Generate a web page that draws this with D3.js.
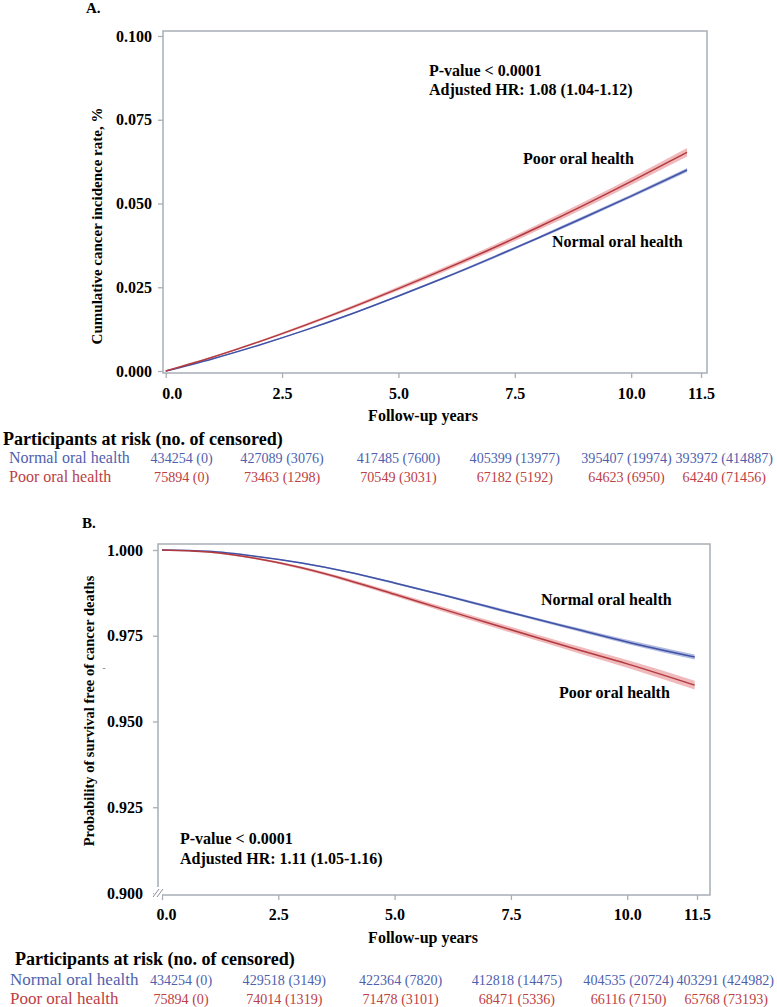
<!DOCTYPE html>
<html>
<head>
<meta charset="utf-8">
<style>
  body { margin: 0; background: #fff; }
  svg { display: block; }
  text { font-family: "Liberation Serif", "Times New Roman", "DejaVu Serif", serif; }
  .tick text { font-weight: bold; font-size: 16px; fill: #000; }
  .tick line { stroke: #a7aeb6; stroke-width: 1.3; }
  .bold { font-weight: bold; }
</style>
<title>Oral health and cancer</title>
</head>
<body>
<script src="https://cdn.jsdelivr.net/npm/d3@7"></script>
<script>

// ---- data ----
var xTicks = [0, 2.5, 5, 7.5, 10, 11.5];
var incTicks = [0, 0.025, 0.05, 0.075, 0.1];
var survTicks = [0.9, 0.925, 0.95, 0.975, 1.0];

// panel A : cumulative cancer incidence
var incTime     = [0, 1, 2, 3, 4, 5, 6, 7, 8, 9, 10, 11.2];
var incNormal   = [0, 0.0036, 0.0077, 0.0122, 0.0171, 0.0224, 0.0279, 0.0337, 0.0397, 0.0459, 0.0522, 0.0600];
var incNormalCI = [0, 0.0001, 0.0001, 0.0002, 0.0002, 0.0003, 0.0003, 0.0004, 0.0004, 0.0005, 0.0005, 0.0006];
var incPoor     = [0, 0.0041, 0.0087, 0.0137, 0.0190, 0.0246, 0.0304, 0.0365, 0.0429, 0.0496, 0.0566, 0.0653];
var incPoorCI   = [0, 0.0002, 0.0003, 0.0004, 0.0005, 0.0006, 0.0007, 0.0008, 0.0009, 0.0010, 0.0011, 0.0013];

// panel B : survival free of cancer deaths
var survTime     = [0, 1, 2, 3, 4, 5, 6, 7, 8, 9, 10, 11.45];
var survNormal   = [1.0, 0.9996, 0.9982, 0.9962, 0.9936, 0.9904, 0.9870, 0.9835, 0.9800, 0.9766, 0.9732, 0.9688];
var survNormalCI = [0, 0.0001, 0.0001, 0.0002, 0.0002, 0.0003, 0.0003, 0.0004, 0.0004, 0.0005, 0.0006, 0.0007];
var survPoor     = [1.0, 0.9994, 0.9976, 0.9948, 0.9912, 0.9871, 0.9829, 0.9788, 0.9747, 0.9707, 0.9668, 0.9606];
var survPoorCI   = [0, 0.0002, 0.0003, 0.0004, 0.0005, 0.0006, 0.0007, 0.0008, 0.0009, 0.0010, 0.0011, 0.0013];

var groups = ["Normal oral health", "Poor oral health"];
var riskAt = [0, 2.5, 5, 7.5, 9.9, 12];
var riskA_normal = ["434254 (0)", "427089 (3076)", "417485 (7600)", "405399 (13977)", "395407 (19974)", "393972 (414887)"];
var riskA_poor   = ["75894 (0)", "73463 (1298)", "70549 (3031)", "67182 (5192)", "64623 (6950)", "64240 (71456)"];
var riskB_normal = ["434254 (0)", "429518 (3149)", "422364 (7820)", "412818 (14475)", "404535 (20724)", "403291 (424982)"];
var riskB_poor   = ["75894 (0)", "74014 (1319)", "71478 (3101)", "68471 (5336)", "66116 (7150)", "65768 (73193)"];

var blue = "#3f52a6", blueBand = "#aab3dc", blueText = "#4f5fae";
var red = "#b23a3f", redBand = "#eeb1b4", redText = "#bd4043";
var frameCol = "#a7aeb6";

var svg = d3.select("body").append("svg").attr("width", 777).attr("height", 1007);

function panel(o) {
  var g = svg.append("g");
  var x = d3.scaleLinear().domain([0, 11.5]).range([o.x0, o.x1]);
  var y = d3.scaleLinear().domain(o.yDomain).range(o.yRange);
  var f = o.frame;

  g.append("rect")
    .attr("x", f[0]).attr("y", f[1])
    .attr("width", f[2] - f[0]).attr("height", f[3] - f[1])
    .attr("fill", "none").attr("stroke", frameCol).attr("stroke-width", 1.5);

  var ya = g.append("g").attr("transform", "translate(" + f[0] + ",0)")
    .call(d3.axisLeft(y).tickValues(o.yTicks).tickFormat(d3.format(".3f"))
      .tickSize(5).tickPadding(o.yPad));
  ya.select(".domain").remove();

  var xa = g.append("g").attr("transform", "translate(0," + f[3] + ")")
    .call(d3.axisBottom(x).tickValues(xTicks).tickFormat(d3.format(".1f"))
      .tickSize(5).tickPadding(o.xPad));
  xa.select(".domain").remove();
  xa.select(".tick text").attr("dx", o.firstDx);

  // bands then lines
  o.series.forEach(function(s) {
    var pts = s.t.map(function(t, i) { return {t: t, v: s.v[i], ci: s.ci[i]}; });
    g.append("path").datum(pts)
      .attr("fill", s.band).attr("opacity", 0.9)
      .attr("d", d3.area().curve(d3.curveMonotoneX)
        .x(function(d) { return x(d.t); })
        .y0(function(d) { return y(d.v - d.ci); })
        .y1(function(d) { return y(d.v + d.ci); }));
  });
  o.series.forEach(function(s) {
    var pts = s.t.map(function(t, i) { return {t: t, v: s.v[i]}; });
    g.append("path").datum(pts)
      .attr("fill", "none").attr("stroke", s.color).attr("stroke-width", 1.5)
      .attr("d", d3.line().curve(d3.curveMonotoneX)
        .x(function(d) { return x(d.t); })
        .y(function(d) { return y(d.v); }));
  });

  // titles
  g.append("text").attr("class", "bold").attr("x", o.letter[0]).attr("y", o.letter[1])
    .style("font-size", "15px").text(o.letterText);
  g.append("text").attr("class", "bold")
    .attr("transform", "translate(" + o.ylab[0] + "," + o.ylab[1] + ") rotate(-90)")
    .attr("text-anchor", "middle").attr("dy", "0.35em")
    .style("font-size", o.ylabSize).text(o.ylabText);
  g.append("text").attr("class", "bold").attr("x", 423).attr("y", f[3] + 48)
    .attr("text-anchor", "middle").style("font-size", "16px").text("Follow-up years");

  // annotations
  o.notes.forEach(function(n) {
    g.append("text").attr("class", "bold").attr("x", n[0]).attr("y", n[1])
      .attr("dy", "0.35em").style("font-size", "16px").text(n[2]);
  });

  // risk table
  var t = o.table;
  g.append("text").attr("class", "bold").attr("x", t.headX).attr("y", t.headY)
    .style("font-size", "18px").text("Participants at risk (no. of censored)");
  [t.normal, t.poor].forEach(function(row, r) {
    var yy = t.rowY[r];
    var col = r == 0 ? blueText : redText;
    g.append("text").attr("x", t.labX).attr("y", yy).attr("fill", col)
      .style("font-size", t.labSize).text(groups[r]);
    g.selectAll(null).data(row).enter().append("text")
      .attr("y", yy).attr("fill", col).attr("text-anchor", "middle")
      .style("font-size", t.numSize)
      .text(function(d) { return d; })
      .each(function(d, i) {
        var w = this.getComputedTextLength();
        var cx = x(riskAt[i]) + t.shift + (i == 0 ? 16 - t.shift / 2 : 0);
        cx = Math.min(cx, 774 - w / 2);
        d3.select(this).attr("x", cx);
      });
  });
  return {x: x, y: y, g: g};
}

panel({
  x0: 165.7, x1: 701, yDomain: [0, 0.1], yRange: [371, 36],
  frame: [163, 31, 707, 373], yTicks: incTicks, yPad: 6, xPad: 10, firstDx: 6,
  series: [
    {t: incTime, v: incNormal, ci: incNormalCI, color: blue, band: blueBand},
    {t: incTime, v: incPoor, ci: incPoorCI, color: red, band: redBand}
  ],
  letter: [86, 13], letterText: "A.",
  ylab: [97, 226], ylabSize: "15px", ylabText: "Cumulative cancer incidence rate, %",
  notes: [[429, 70, "P-value < 0.0001"], [429, 89, "Adjusted HR: 1.08 (1.04-1.12)"],
          [523, 158, "Poor oral health"], [552, 241, "Normal oral health"]],
  table: {headX: 3, headY: 445, labX: 9, rowY: [463, 482], labSize: "16px", numSize: "14.1px",
          normal: riskA_normal, poor: riskA_poor, shift: 0}
});

var pb = panel({
  x0: 162, x1: 697, yDomain: [0.9, 1.0], yRange: [893, 550],
  frame: [158, 544, 710, 895], yTicks: survTicks, yPad: 10, xPad: 9, firstDx: 4,
  series: [
    {t: survTime, v: survNormal, ci: survNormalCI, color: blue, band: blueBand},
    {t: survTime, v: survPoor, ci: survPoorCI, color: red, band: redBand}
  ],
  letter: [82, 528], letterText: "B.",
  ylab: [89, 711], ylabSize: "14.5px", ylabText: "Probability of survival free of cancer deaths",
  notes: [[180, 838, "P-value < 0.0001"], [180, 858, "Adjusted HR: 1.11 (1.05-1.16)"],
          [541, 599, "Normal oral health"], [559, 692, "Poor oral health"]],
  table: {headX: 15, headY: 965, labX: 10, rowY: [985, 1004], labSize: "17px", numSize: "14.1px",
          normal: riskB_normal, poor: riskB_poor, shift: 6}
});

// small stray dash next to the B axis title
pb.g.append("text").attr("x", 104).attr("y", 668).attr("dy", "0.35em")
  .attr("text-anchor", "middle").style("font-size", "9px").attr("fill", "#555").text("-");

// axis break marks on panel B
var bx = 158, by = pb.y(0.9);
pb.g.append("rect").attr("x", bx - 4).attr("y", by - 6).attr("width", 8).attr("height", 10).attr("fill", "#fff");
[-2, 2].forEach(function(dx) {
  pb.g.append("line")
    .attr("x1", bx + dx - 3).attr("y1", by + 4)
    .attr("x2", bx + dx + 3).attr("y2", by - 4)
    .attr("stroke", "#8a9098").attr("stroke-width", 1);
});

</script>
</body>
</html>
